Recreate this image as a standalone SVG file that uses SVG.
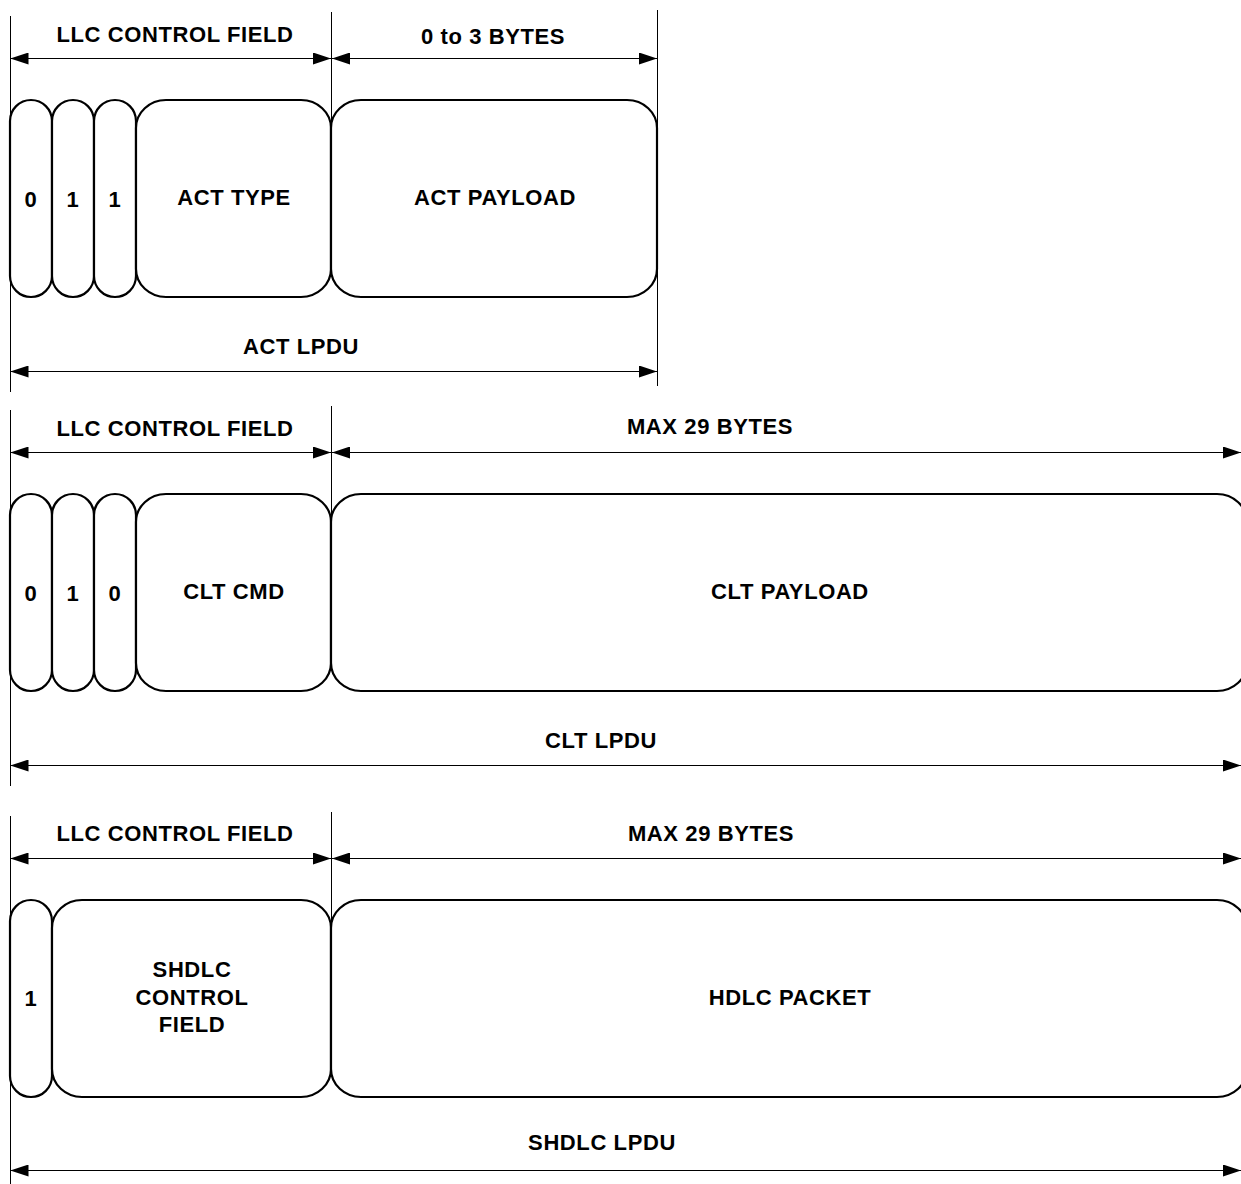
<svg xmlns="http://www.w3.org/2000/svg" width="1241" height="1184" viewBox="0 0 1241 1184">
<defs>
<marker id="ah" viewBox="0 0 18 12" refX="18" refY="6" markerWidth="18" markerHeight="12" markerUnits="userSpaceOnUse" orient="auto-start-reverse">
<path d="M0,0 L18,6 L0,12 z" fill="#000"/>
</marker>
<style>
.box{fill:#fff;stroke:#000;stroke-width:2.2}
.ln{stroke:#000;stroke-width:1;fill:none}
.dim{stroke:#000;stroke-width:1;fill:none;marker-start:url(#ah);marker-end:url(#ah)}
text{font-family:"Liberation Sans",Arial,sans-serif;font-weight:bold;font-size:22px;letter-spacing:0.6px;text-anchor:middle;fill:#000}
</style>
</defs>
<rect width="1241" height="1184" fill="#fff"/>
<g id="connectors">
<line class="ln" x1="10.5" y1="16" x2="10.5" y2="392"/>
<line class="ln" x1="331.5" y1="12" x2="331.5" y2="130"/>
<line class="ln" x1="657.5" y1="10" x2="657.5" y2="386"/>
<line class="dim" x1="10.5" y1="58.5" x2="331" y2="58.5"/>
<line class="dim" x1="332" y1="58.5" x2="657" y2="58.5"/>
<line class="dim" x1="10.5" y1="371.5" x2="657" y2="371.5"/>
<line class="ln" x1="10.5" y1="410" x2="10.5" y2="786"/>
<line class="ln" x1="331.5" y1="406" x2="331.5" y2="524"/>
<line class="dim" x1="10.5" y1="452.5" x2="331" y2="452.5"/>
<line class="dim" x1="332" y1="452.5" x2="1241" y2="452.5"/>
<line class="dim" x1="10.5" y1="765.5" x2="1241" y2="765.5"/>
<line class="ln" x1="10.5" y1="816" x2="10.5" y2="1184"/>
<line class="ln" x1="331.5" y1="812" x2="331.5" y2="930"/>
<line class="dim" x1="10.5" y1="858.5" x2="331" y2="858.5"/>
<line class="dim" x1="332" y1="858.5" x2="1241" y2="858.5"/>
<line class="dim" x1="10.5" y1="1170.5" x2="1241" y2="1170.5"/>
</g>
<g id="labels1">
<text x="175" y="42">LLC CONTROL FIELD</text>
<text x="493" y="44">0 to 3 BYTES</text>
<text x="301" y="354">ACT LPDU</text>
</g>
<g id="act-bit0"><rect class="box" x="10" y="100" width="42" height="197" rx="21" ry="21"/><text x="31" y="207">0</text></g>
<g id="act-bit1"><rect class="box" x="52" y="100" width="42" height="197" rx="21" ry="21"/><text x="73" y="207">1</text></g>
<g id="act-bit2"><rect class="box" x="94" y="100" width="42" height="197" rx="21" ry="21"/><text x="115" y="207">1</text></g>
<g id="act-type"><rect class="box" x="136" y="100" width="195" height="197" rx="30" ry="28"/><text x="234" y="205">ACT TYPE</text></g>
<g id="act-payload"><rect class="box" x="331" y="100" width="326" height="197" rx="30" ry="28"/><text x="495" y="205">ACT PAYLOAD</text></g>
<g id="labels2">
<text x="175" y="436">LLC CONTROL FIELD</text>
<text x="710" y="434">MAX 29 BYTES</text>
<text x="601" y="748">CLT LPDU</text>
</g>
<g id="clt-bit0"><rect class="box" x="10" y="494" width="42" height="197" rx="21" ry="21"/><text x="31" y="601">0</text></g>
<g id="clt-bit1"><rect class="box" x="52" y="494" width="42" height="197" rx="21" ry="21"/><text x="73" y="601">1</text></g>
<g id="clt-bit2"><rect class="box" x="94" y="494" width="42" height="197" rx="21" ry="21"/><text x="115" y="601">0</text></g>
<g id="clt-cmd"><rect class="box" x="136" y="494" width="195" height="197" rx="30" ry="28"/><text x="234" y="599">CLT CMD</text></g>
<g id="clt-payload"><rect class="box" x="331" y="494" width="916" height="197" rx="30" ry="28"/><text x="790" y="599">CLT PAYLOAD</text></g>
<g id="labels3">
<text x="175" y="841">LLC CONTROL FIELD</text>
<text x="711" y="841">MAX 29 BYTES</text>
<text x="602" y="1150">SHDLC LPDU</text>
</g>
<g id="shdlc-bit0"><rect class="box" x="10" y="900" width="42" height="197" rx="21" ry="21"/><text x="31" y="1006">1</text></g>
<g id="shdlc-ctrl"><rect class="box" x="52" y="900" width="279" height="197" rx="30" ry="28"/><text x="192" y="977">SHDLC</text><text x="192" y="1005">CONTROL</text><text x="192" y="1032">FIELD</text></g>
<g id="hdlc-packet"><rect class="box" x="331" y="900" width="916" height="197" rx="30" ry="28"/><text x="790" y="1005">HDLC PACKET</text></g>
</svg>
